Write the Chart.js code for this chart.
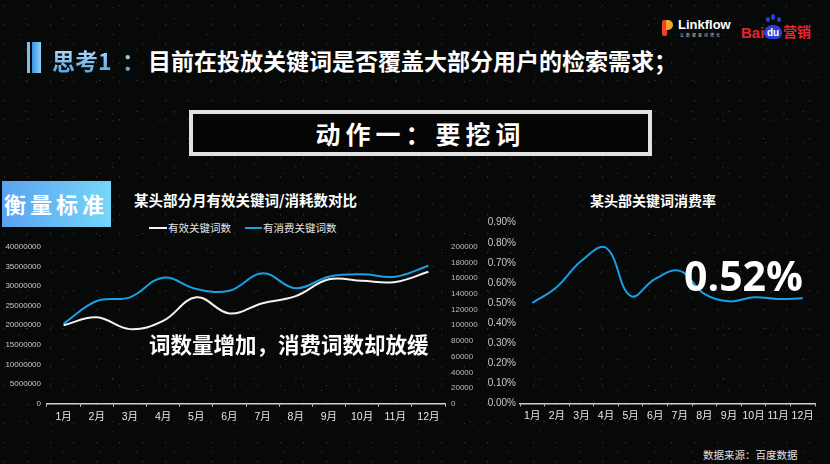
<!DOCTYPE html>
<html>
<head>
<meta charset="utf-8">
<script src="https://cdn.jsdelivr.net/npm/chart.js@4.4.1/dist/chart.umd.min.js"></script>
<style>
  html, body { margin:0; padding:0; }
  body { width:830px; height:464px; background-color:#070808; position:relative; overflow:hidden;
         font-family:"Noto Sans CJK SC","Liberation Sans",sans-serif; color:#fff;
         background-image:
           radial-gradient(circle at 20% 30%, rgba(255,255,255,0.16) 0 0.6px, transparent 1px),
           radial-gradient(circle at 70% 60%, rgba(160,220,255,0.14) 0 0.6px, transparent 1px),
           radial-gradient(circle at 40% 80%, rgba(255,255,255,0.12) 0 0.5px, transparent 1px),
           radial-gradient(circle at 85% 15%, rgba(180,230,255,0.12) 0 0.5px, transparent 1px);
         background-size: 23px 19px, 37px 31px, 47px 43px, 61px 53px; }
  .abs { position:absolute; white-space:nowrap; }
  canvas { position:absolute; }
</style>
</head>
<body>
<!-- logos -->
<div class="abs" style="left:662px;top:20px;width:5px;height:16px;background:#f0402a;border-radius:2px;"></div>
<div class="abs" style="left:666px;top:20px;width:7px;height:10px;background:#f5a623;border-radius:0 5px 5px 0;"></div>
<div class="abs" style="left:678px;top:17px;font:bold 13px 'Liberation Sans',sans-serif;color:#fff;">Linkflow</div>
<div class="abs" style="left:680px;top:32px;font:4px 'Noto Sans CJK SC';color:#ccc;letter-spacing:2px;">让数据驱动增长</div>
<div class="abs" style="left:741px;top:24px;font:bold 15px 'Liberation Sans',sans-serif;color:#e8262a;">Bai</div>
<div class="abs" style="left:764px;top:25px;width:18px;height:14px;background:#2c3fd6;border-radius:8px 8px 6px 6px;font:bold 10px 'Liberation Sans';color:#fff;text-align:center;line-height:15px;">du</div>
<div class="abs" style="left:766px;top:17px;width:4px;height:5px;background:#2c3fd6;border-radius:50%;"></div>
<div class="abs" style="left:771px;top:14px;width:4px;height:6px;background:#2c3fd6;border-radius:50%;"></div>
<div class="abs" style="left:777px;top:17px;width:4px;height:5px;background:#2c3fd6;border-radius:50%;"></div>
<div class="abs" style="left:783px;top:22px;font:bold 14px 'Noto Sans CJK SC';color:#e8262a;line-height:18px;">营销</div>

<!-- page title -->
<div class="abs" style="left:27px;top:42px;width:3px;height:31px;background:#7cc0f0;"></div>
<div class="abs" style="left:32px;top:42px;width:9px;height:31px;background:linear-gradient(90deg,#3d8fe0,#90d2fb);"></div>
<div class="abs" style="left:52px;top:44px;font:bold 23px/32px 'Noto Sans CJK SC';background:linear-gradient(180deg,#c4eaff,#4b9de2);-webkit-background-clip:text;background-clip:text;color:transparent;">思考1</div>
<div class="abs" style="left:122px;top:44px;font:bold 23px/32px 'Noto Sans CJK SC';background:linear-gradient(180deg,#c4eaff,#4b9de2);-webkit-background-clip:text;background-clip:text;color:transparent;">：</div>
<div class="abs" style="left:148px;top:44px;font:bold 23px/32px 'Noto Sans CJK SC';color:#fff;">目前在投放关键词是否覆盖大部分用户的检索需求；</div>

<!-- action box -->
<div class="abs" style="left:189px;top:110px;width:455px;height:38px;border:4px solid #e2e2e2;background:#050505;"></div>
<div class="abs" style="left:189px;top:114px;width:463px;text-align:center;font:bold 25px/38px 'Noto Sans CJK SC';letter-spacing:5px;color:#fff;">动作一：要挖词</div>

<!-- badge -->
<div class="abs" style="left:2px;top:181px;width:109px;height:46px;background:linear-gradient(90deg,#5aa2f1,#76d6f8);"></div>
<div class="abs" style="left:4px;top:187px;font:bold 22px/32px 'Noto Sans CJK SC';letter-spacing:4px;color:#fff;">衡量标准</div>

<!-- left chart title & legend -->
<div class="abs" style="left:134px;top:190px;font:bold 14.5px/20px 'Noto Sans CJK SC';color:#fff;">某头部分月有效关键词/消耗数对比</div>
<div class="abs" style="left:149px;top:227px;width:18px;height:2px;background:#f2f2f2;"></div>
<div class="abs" style="left:168px;top:220px;font:10.5px/16px 'Noto Sans CJK SC';color:#e4e4e4;">有效关键词数</div>
<div class="abs" style="left:245px;top:227px;width:17px;height:2px;background:#1a9ee6;"></div>
<div class="abs" style="left:263px;top:220px;font:10.5px/16px 'Noto Sans CJK SC';color:#e4e4e4;">有消费关键词数</div>

<!-- right chart title -->
<div class="abs" style="left:590px;top:190px;font:bold 14px/20px 'Noto Sans CJK SC';color:#fff;">某头部关键词消费率</div>

<canvas id="c1" width="490" height="200" style="left:0;top:230px;"></canvas>
<canvas id="c2" width="360" height="220" style="left:470px;top:210px;"></canvas>

<!-- annotations -->
<div class="abs" style="left:149px;top:328px;font:bold 21.5px/32px 'Noto Sans CJK SC';color:#fff;">词数量增加，消费词数却放缓</div>
<div class="abs" style="left:684px;top:248px;font:bold 41px/54px 'Open Sans','Liberation Sans',sans-serif;color:#fff;">0.52%</div>
<div class="abs" style="left:703px;top:447px;font:10.5px/16px 'Noto Sans CJK SC';color:#e0e0e0;">数据来源：百度数据</div>

<script>
const months = ['1月','2月','3月','4月','5月','6月','7月','8月','9月','10月','11月','12月'];
const effectiveKeywords = [20000000, 22000000, 19000000, 21100000, 27100000, 23000000, 25600000, 27400000, 31700000, 31300000, 31000000, 33600000];
const consumingKeywords = [102000, 130800, 135500, 160500, 146100, 144000, 166100, 147000, 161800, 164800, 161800, 175800];
const consumptionRate = [0.50, 0.58, 0.71, 0.775, 0.535, 0.62, 0.66, 0.545, 0.508, 0.528, 0.52, 0.523];
const leftAxisMax = 40000000, leftAxisStep = 5000000;
const rightAxisMax = 200000, rightAxisStep = 20000;
const rateAxisMax = 0.9, rateAxisStep = 0.1;

const FONT = "'Liberation Sans','Noto Sans CJK SC',sans-serif";
Chart.defaults.font.family = FONT;
Chart.defaults.animation = false;

const xAxis = (h) => ({
  type:'category', offset:true,
  grid:{ display:true, drawOnChartArea:false, drawTicks:true, tickLength:3, color:'#cfcfcf', offset:true },
  border:{ display:true, color:'#cfcfcf', width:1.5 },
  ticks:{ color:'#e6e6e6', font:{ size:10.5, family:FONT }, padding:4, maxRotation:0, autoSkip:false },
  afterFit(s){ s.height = h; }
});

new Chart(document.getElementById('c1'), {
  type:'line',
  data:{ labels:months, datasets:[
    { label:'有效关键词数', data:effectiveKeywords, yAxisID:'y', borderColor:'#f2f2f2', borderWidth:2, pointRadius:0, tension:0.4, fill:false },
    { label:'有消费关键词数', data:consumingKeywords, yAxisID:'y1', borderColor:'#1a9ee6', borderWidth:2, pointRadius:0, tension:0.4, fill:false }
  ]},
  options:{
    responsive:false, devicePixelRatio:1,
    layout:{ padding:{ top:16.7, left:0, right:0, bottom:0 } },
    plugins:{ legend:{ display:false }, tooltip:{ enabled:false } },
    scales:{
      x: xAxis(26.3),
      y:{ position:'left', min:0, max:leftAxisMax,
          grid:{ display:false, drawTicks:false }, border:{ display:false },
          ticks:{ stepSize:leftAxisStep, color:'#c8c8c8', font:{ size:8 }, padding:6, callback:v=>String(v) },
          afterFit(s){ s.width = 47; } },
      y1:{ position:'right', min:0, max:rightAxisMax,
          grid:{ display:false, drawTicks:false }, border:{ display:false },
          ticks:{ stepSize:rightAxisStep, color:'#bdbdbd', font:{ size:8 }, padding:6, callback:v=>String(v) },
          afterFit(s){ s.width = 45; } }
    }
  }
});

new Chart(document.getElementById('c2'), {
  type:'line',
  data:{ labels:months, datasets:[
    { label:'消费率', data:consumptionRate, borderColor:'#1a9ee6', borderWidth:2, pointRadius:0, tension:0.4, fill:false }
  ]},
  options:{
    responsive:false, devicePixelRatio:1,
    layout:{ padding:{ top:12.7, left:0, right:15, bottom:0 } },
    plugins:{ legend:{ display:false }, tooltip:{ enabled:false } },
    scales:{
      x: xAxis(26.7),
      y:{ position:'left', min:0, max:rateAxisMax,
          grid:{ display:false, drawTicks:false }, border:{ display:false },
          ticks:{ stepSize:rateAxisStep, color:'#c8c8c8', font:{ size:10 }, padding:4, callback:v=>Number(v).toFixed(2)+'%' },
          afterFit(s){ s.width = 50; } }
    }
  }
});
</script>
</body>
</html>
